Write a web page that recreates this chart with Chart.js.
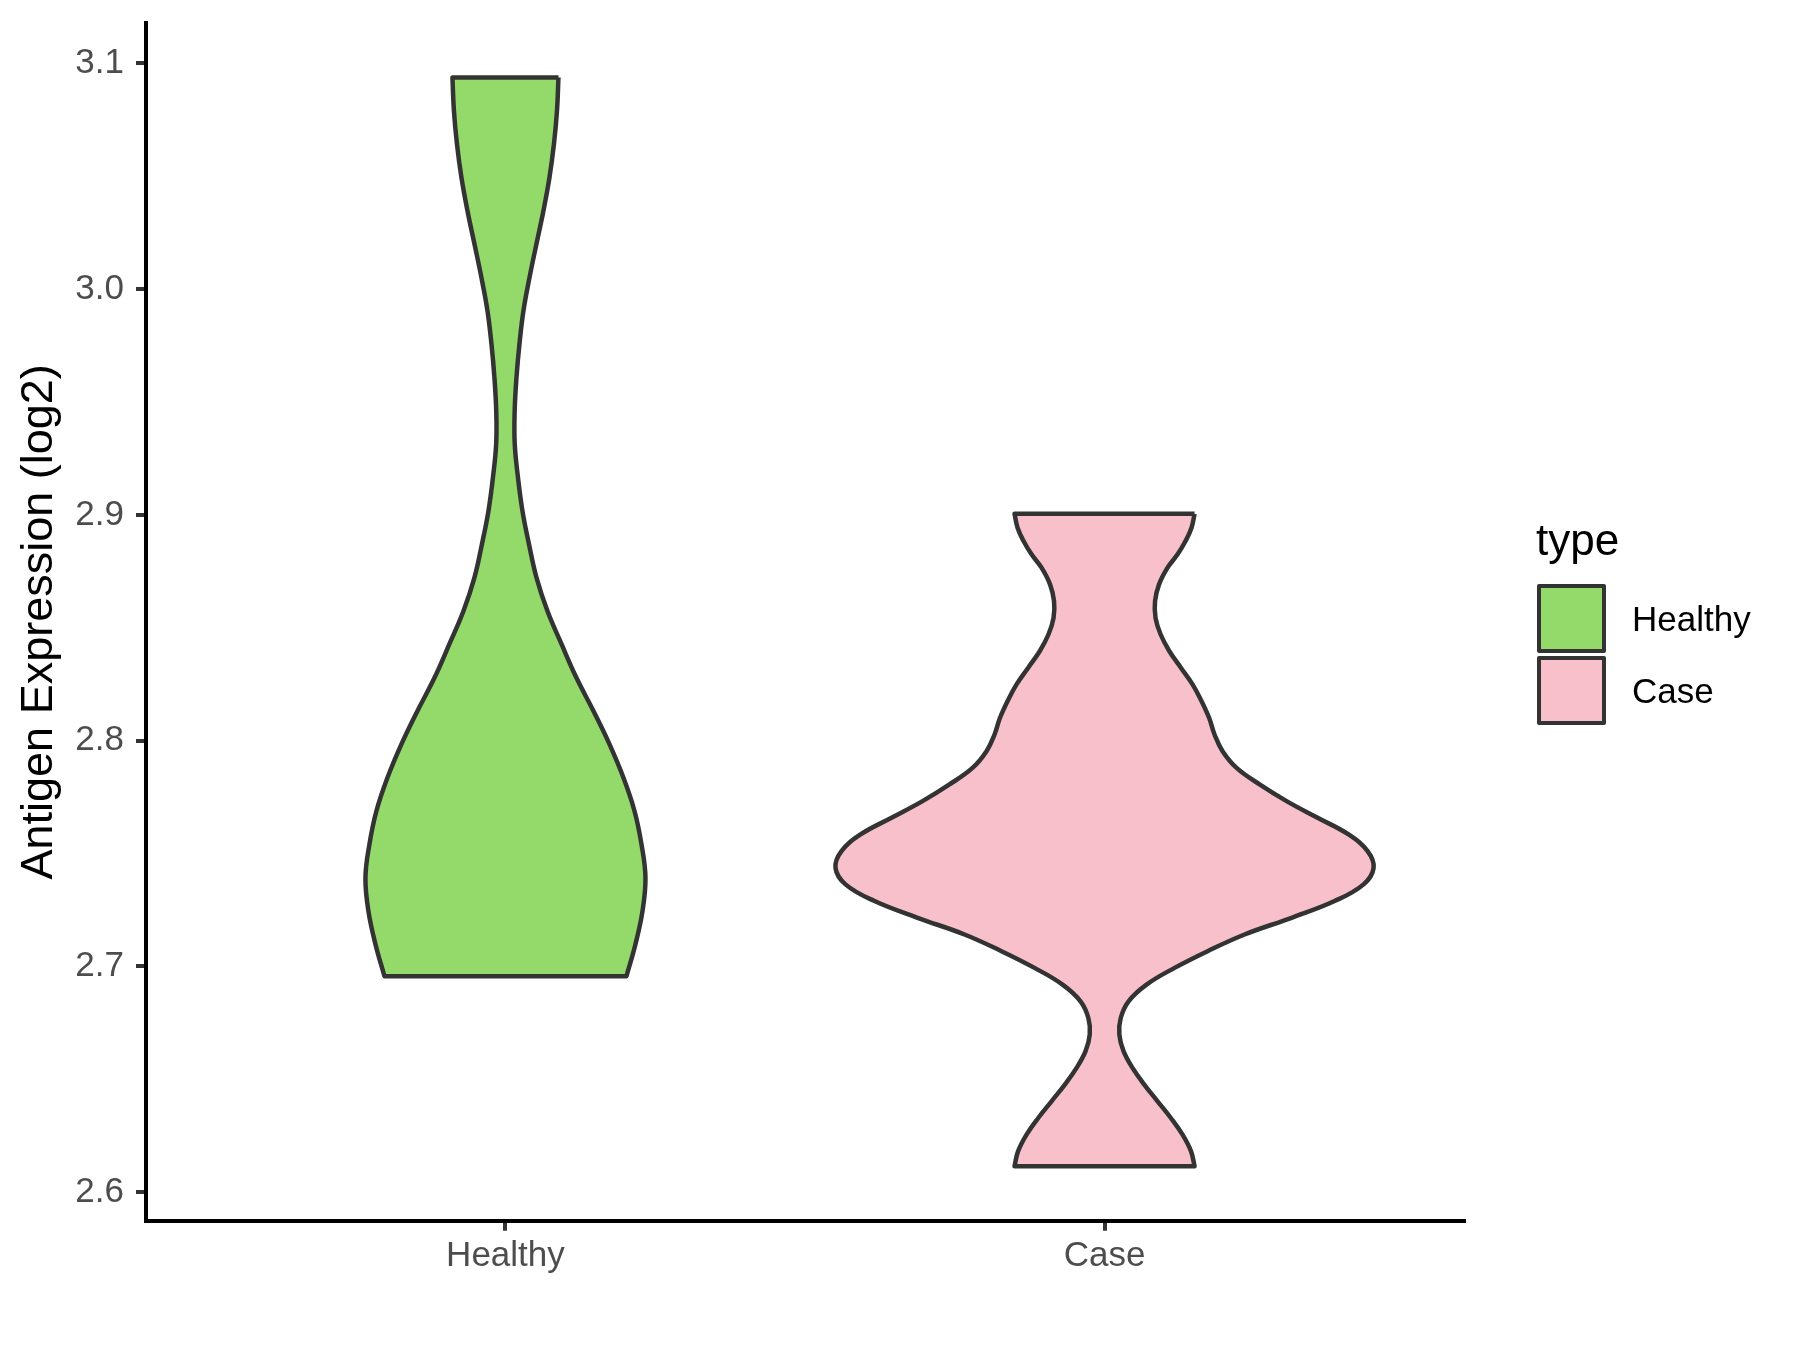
<!DOCTYPE html>
<html>
<head>
<meta charset="utf-8">
<script src="https://cdn.jsdelivr.net/npm/chart.js@4.4.1/dist/chart.umd.min.js"></script>
<style>
  html, body { margin: 0; padding: 0; background: #fff; }
  #wrap { position: relative; width: 1800px; height: 1350px; }
  #chart { position: absolute; left: 0; top: 0; }
  .lg { position: absolute; font-family: "Liberation Sans", Arial, sans-serif; color: #000; white-space: nowrap; }
  .lg-title { font-size: 44px; line-height: 44px; }
  .lg-key { box-sizing: border-box; width: 69px; height: 69px; border: 4px solid #333; border-radius: 2px; }
  .lg-label { font-size: 35px; line-height: 69px; height: 69px; }
</style>
</head>
<body>
<div id="wrap">
  <canvas id="chart" width="1800" height="1350"></canvas>
  <div id="legend"></div>
</div>
<script>
const categories = ['Healthy', 'Case'];
const fills = ['#93DA6A', '#F8C0CB'];
const yTicks = [2.6, 2.7, 2.8, 2.9, 3.0, 3.1];

// violin outlines: expression value and half width (category units)
const healthyY = [3.0938, 3.0790, 3.0644, 3.0495, 3.0347, 3.0201, 3.0051, 2.9904, 2.9758, 2.9608, 2.9461, 2.9314,
  2.9165, 2.9017, 2.8871, 2.8722, 2.8574, 2.8428, 2.8278, 2.8131, 2.7984, 2.7835, 2.7688, 2.7541, 2.7392, 2.7244,
  2.7098, 2.6956];
const healthyHalf = [0.0885, 0.0860, 0.0810, 0.0735, 0.0634, 0.0518, 0.0401, 0.0300, 0.0234, 0.0184, 0.0154, 0.0155,
  0.0209, 0.0284, 0.0392, 0.0518, 0.0701, 0.0935, 0.1185, 0.1469, 0.1736, 0.1970, 0.2154, 0.2270, 0.2337, 0.2287,
  0.2170, 0.2020];
const caseY = [2.9005, 2.8943, 2.8884, 2.8825, 2.8766, 2.8692, 2.8618, 2.8544, 2.8471, 2.8397, 2.8323, 2.8249,
  2.8175, 2.8101, 2.8027, 2.7953, 2.7879, 2.7806, 2.7732, 2.7658, 2.7584, 2.7510, 2.7436, 2.7363, 2.7289, 2.7215,
  2.7141, 2.7067, 2.6993, 2.6919, 2.6845, 2.6771, 2.6698, 2.6624, 2.6550, 2.6476, 2.6402, 2.6328, 2.6254, 2.6180,
  2.6114];
const caseHalf = [0.1503, 0.1452, 0.1352, 0.1219, 0.1052, 0.0910, 0.0843, 0.0851, 0.0935, 0.1080, 0.1274, 0.1469,
  0.1619, 0.1745, 0.1836, 0.1970, 0.2204, 0.2588, 0.3038, 0.3556, 0.4073, 0.4391, 0.4491, 0.4324, 0.3840, 0.3122,
  0.2337, 0.1720, 0.1169, 0.0701, 0.0401, 0.0270, 0.0247, 0.0317, 0.0467, 0.0663, 0.0885, 0.1107, 0.1302, 0.1444,
  0.1503];

const FONT = '"Liberation Sans", Arial, sans-serif';
Chart.defaults.font.family = FONT;

// closed polygon round one violin; corner points doubled so the flat ends stay square
function outline(center, ys, hw) {
  const right = ys.map((y, i) => ({ x: center + hw[i], y }));
  const left = ys.map((y, i) => ({ x: center - hw[i], y })).reverse();
  const first = right[0], last = right[right.length - 1];
  return [first, ...right, last, left[0], ...left, left[left.length - 1], first, first];
}

const axisGrid = { drawOnChartArea: false, color: '#333333', lineWidth: 4, tickLength: 10 };
const axisBorder = { display: true, color: '#000000', width: 4 };

new Chart(document.getElementById('chart'), {
  type: 'scatter',
  data: {
    datasets: [
      { data: outline(1, healthyY, healthyHalf), backgroundColor: fills[0] },
      { data: outline(2, caseY, caseHalf), backgroundColor: fills[1] },
    ].map(d => ({ ...d, showLine: true, fill: 'shape', borderColor: '#333333', borderWidth: 4.5,
                  borderJoinStyle: 'round', pointRadius: 0, tension: 0.4 })),
  },
  options: {
    responsive: false, animation: false, events: [], devicePixelRatio: 1,
    layout: { padding: { left: 0, right: 336, top: 23, bottom: 0 } },
    plugins: { legend: { display: false }, tooltip: { enabled: false } },
    scales: {
      x: {
        type: 'linear', min: 0.4, max: 2.6,
        afterFit: s => { s.height = 129.3; s.paddingLeft = 0; s.paddingRight = 0; },
        afterBuildTicks: s => { s.ticks = categories.map((c, i) => ({ value: i + 1 })); },
        ticks: { callback: v => categories[v - 1], color: '#4D4D4D', font: { size: 35 }, padding: 5,
                 maxRotation: 0, autoSkip: false },
        grid: axisGrid, border: axisBorder,
      },
      y: {
        type: 'linear', min: 2.5873, max: 3.1179,
        afterFit: s => { s.width = 146; s.paddingTop = 0; s.paddingBottom = 0; },
        afterBuildTicks: s => { s.ticks = yTicks.map(v => ({ value: v })); },
        ticks: { callback: v => v.toFixed(1), color: '#4D4D4D', font: { size: 35 }, padding: 12 },
        grid: axisGrid, border: axisBorder,
        title: { display: true, text: 'Antigen Expression (log2)', color: '#000', font: { size: 45 },
                 padding: { top: 13, bottom: 0 } },
      },
    },
  },
});

// legend drawn as html text beside the plot
const legend = document.getElementById('legend');
const title = document.createElement('div');
title.className = 'lg lg-title';
title.style.left = '1536px'; title.style.top = '518px';
title.textContent = 'type';
legend.appendChild(title);
categories.forEach((c, i) => {
  const top = 584 + i * 71.5;
  const key = document.createElement('div');
  key.className = 'lg lg-key';
  key.style.left = '1537px'; key.style.top = top + 'px'; key.style.background = fills[i];
  legend.appendChild(key);
  const label = document.createElement('div');
  label.className = 'lg lg-label';
  label.style.left = '1632px'; label.style.top = top + 'px';
  label.textContent = c;
  legend.appendChild(label);
});
</script>
</body>
</html>
